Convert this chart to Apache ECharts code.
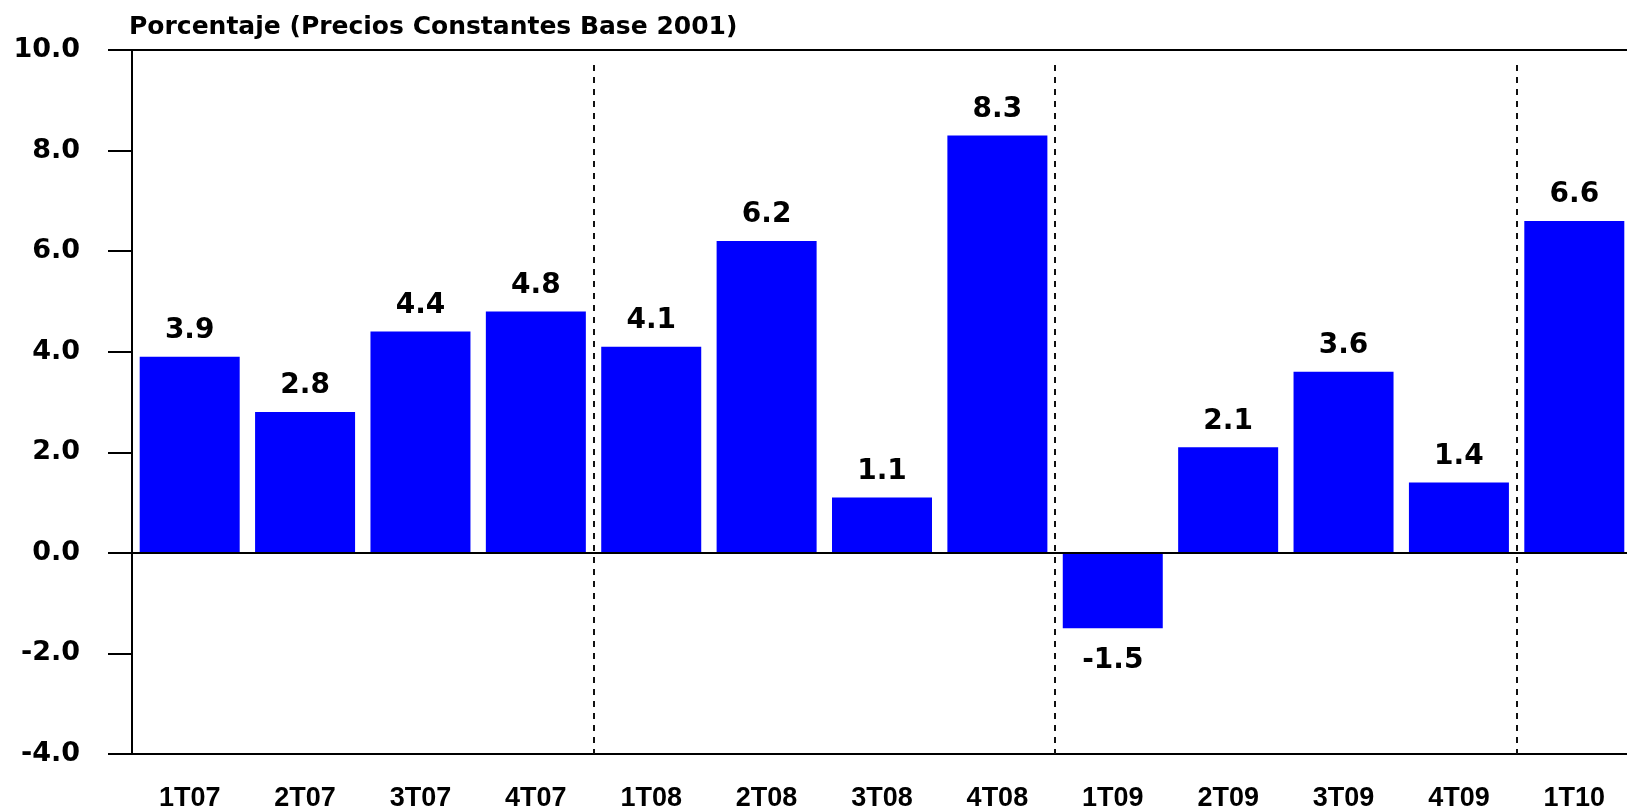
<!DOCTYPE html>
<html>
<head>
<meta charset="utf-8">
<script src="https://cdn.jsdelivr.net/npm/echarts@6/dist/echarts.min.js"></script>
<style>
html,body{margin:0;padding:0;background:#fff;}
#chart{width:1627px;height:807px;}
</style>
</head>
<body>
<div id="chart"></div>
<script>
const categories = ['1T07','2T07','3T07','4T07','1T08','2T08','3T08','4T08','1T09','2T09','3T09','4T09','1T10'];
const values = [3.9, 2.8, 4.4, 4.8, 4.1, 6.2, 1.1, 8.3, -1.5, 2.1, 3.6, 1.4, 6.6];
const yTicks = { min: -4, max: 10, interval: 2 };
const titleText = 'Porcentaje (Precios Constantes Base 2001)';
// year separators sit on the boundary before these category indices
const separatorIndices = [4, 8, 12];
const separatorTop = 9.7;

const chart = echarts.init(document.getElementById('chart'));
const barData = values.map(v => ({
  value: v,
  label: { position: v < 0 ? 'bottom' : 'top', distance: v < 0 ? 18 : 12 }
}));

chart.setOption({
  animation: false,
  title: {
    text: titleText,
    left: 129,
    top: 15,
    padding: 0,
    textStyle: { fontFamily: 'DejaVu Sans', fontWeight: 'bold', fontSize: 25, color: '#000' }
  },
  grid: { left: 132, top: 50, width: 1500, bottom: 53, containLabel: false, outerBoundsMode: 'none' },
  xAxis: [
    {
      type: 'category',
      data: categories,
      position: 'bottom',
      axisLine: { onZero: false, lineStyle: { color: '#000', width: 2 } },
      axisTick: { alignWithLabel: true, length: 20, lineStyle: { color: '#000', width: 2 } },
      axisLabel: { margin: 31, fontFamily: 'Liberation Sans', fontWeight: 'bold', fontSize: 27, color: '#000', interval: 0 },
      splitLine: { show: false }
    },
    {
      type: 'category',
      data: categories,
      position: 'top',
      axisLine: { onZero: false, lineStyle: { color: '#000', width: 2 } },
      axisTick: { show: false },
      axisLabel: { show: false },
      splitLine: { show: false }
    },
    {
      type: 'value',
      min: 0,
      max: categories.length,
      show: false
    }
  ],
  yAxis: {
    type: 'value',
    min: yTicks.min,
    max: yTicks.max,
    interval: yTicks.interval,
    axisLine: { show: true, lineStyle: { color: '#000', width: 2 } },
    axisTick: { show: true, length: 24, lineStyle: { color: '#000', width: 2 } },
    axisLabel: {
      margin: 52,
      fontFamily: 'DejaVu Sans', fontWeight: 'bold', fontSize: 27, color: '#000',
      formatter: v => v.toFixed(1)
    },
    splitLine: { show: false }
  },
  series: [{
    type: 'bar',
    xAxisIndex: 0,
    data: barData,
    barWidth: 100,
    itemStyle: { color: '#0000FF' },
    label: {
      show: true,
      fontFamily: 'DejaVu Sans', fontWeight: 'bold', fontSize: 28, color: '#000',
      formatter: p => p.value.toFixed(1)
    },
    markLine: {
      silent: true,
      symbol: 'none',
      label: { show: false },
      lineStyle: { color: '#000', width: 2, type: 'solid' },
      data: [{ yAxis: 0 }]
    }
  }, {
    type: 'scatter',
    xAxisIndex: 2,
    data: [],
    markLine: {
      silent: true,
      symbol: 'none',
      label: { show: false },
      lineStyle: { color: '#111', width: 2, type: [6, 6] },
      data: separatorIndices.map(i => [{ coord: [i, separatorTop] }, { coord: [i, yTicks.min] }])
    }
  }]
});
</script>
</body>
</html>
